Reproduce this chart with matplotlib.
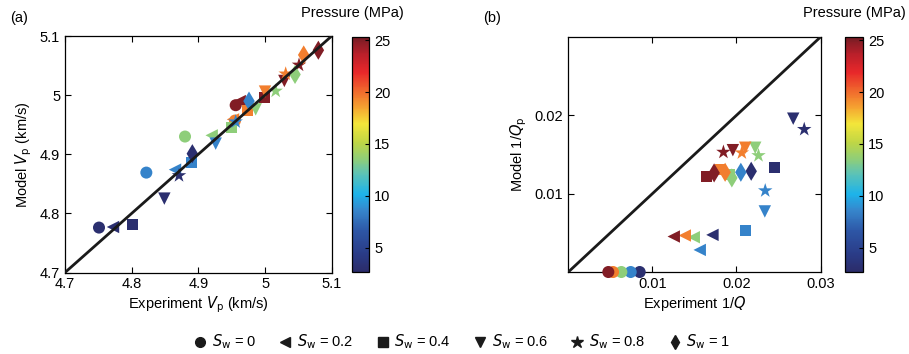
import numpy as np
import matplotlib
matplotlib.use("Agg")
import matplotlib.pyplot as plt
from matplotlib.colors import LinearSegmentedColormap, Normalize
from matplotlib.lines import Line2D

FONT = ['Liberation Sans Narrow', 'Liberation Sans', 'DejaVu Sans']
plt.rcParams['font.family'] = FONT
plt.rcParams['mathtext.fontset'] = 'custom'
plt.rcParams['mathtext.rm'] = 'Liberation Sans Narrow'
plt.rcParams['mathtext.it'] = 'Liberation Sans Narrow:italic'
plt.rcParams['font.size'] = 10.5

# pressure levels (MPa), one per colour
pressure = [3, 8.5, 13.5, 19.5, 25]
sw_labels = ['0', '0.2', '0.4', '0.6', '0.8', '1']
markers = ['o', '<', 's', 'v', '*', 'd']
sizes = [75, 80, 60, 80, 120, 95]

# panel (a): experiment / model Vp (km/s), rows = Sw, cols = pressure
vp_exp = [
    [4.751, 4.822, 4.880, 4.955, 4.956],
    [4.772, 4.865, 4.920, 4.952, 4.962],
    [4.801, 4.890, 4.950, 4.974, 4.999],
    [4.849, 4.926, 4.986, 5.000, 5.029],
    [4.871, 4.956, 5.016, 5.031, 5.051],
    [4.891, 4.976, 5.045, 5.058, 5.080],
]
vp_mod = [
    [4.776, 4.869, 4.930, 4.957, 4.983],
    [4.777, 4.874, 4.932, 4.959, 4.990],
    [4.781, 4.886, 4.945, 4.974, 4.996],
    [4.825, 4.918, 4.976, 5.006, 5.024],
    [4.864, 4.955, 5.007, 5.036, 5.051],
    [4.901, 4.990, 5.035, 5.068, 5.076],
]

# panel (b): experiment / model 1/Q
q_exp = [
    [0.00849, 0.00742, 0.00631, 0.00532, 0.00476],
    [0.01714, 0.01563, 0.01492, 0.01385, 0.01254],
    [0.02448, 0.02111, 0.01920, 0.01810, 0.01648],
    [0.02675, 0.02337, 0.02223, 0.02104, 0.01957],
    [0.02806, 0.02342, 0.02262, 0.02064, 0.01845],
    [0.02175, 0.02052, 0.01945, 0.01865, 0.01734],
]
q_mod = [
    [0.0, 0.0, 0.0, 0.0, 0.0],
    [0.00474, 0.00282, 0.00444, 0.00466, 0.00453],
    [0.01338, 0.00530, 0.01240, 0.01308, 0.01222],
    [0.01957, 0.00773, 0.01586, 0.01586, 0.01555],
    [0.01821, 0.01038, 0.01487, 0.01522, 0.01530],
    [0.01286, 0.01273, 0.01201, 0.01273, 0.01265],
]

cmap = LinearSegmentedColormap.from_list('press', [
    (0.00, '#2b2c6a'), (0.07, '#2a3b86'), (0.17, '#2d55a5'), (0.26, '#3686cc'),
    (0.33, '#1db3ea'), (0.42, '#5ec3b4'), (0.48, '#8fce78'), (0.55, '#bfd645'),
    (0.63, '#f3e63a'), (0.70, '#f5a431'), (0.75, '#f27a2e'), (0.85, '#e8282a'),
    (0.93, '#b81f2a'), (1.00, '#761c24')])
norm = Normalize(2.7, 25.3)

fig = plt.figure(figsize=(9.09, 3.54), dpi=100)
ax1 = fig.add_axes([0.0715, 0.2302, 0.2934, 0.668])
cax1 = fig.add_axes([0.3869, 0.2325, 0.0194, 0.663])
ax2 = fig.add_axes([0.6252, 0.2316, 0.2775, 0.664])
cax2 = fig.add_axes([0.9296, 0.2325, 0.0201, 0.663])


def draw(ax, xs, ys):
    for i, m in enumerate(markers):
        ax.scatter(xs[i], ys[i], c=pressure, cmap=cmap, norm=norm, marker=m,
                   s=sizes[i], linewidths=0, zorder=3, clip_on=False)


draw(ax1, vp_exp, vp_mod)
ax1.plot([4.7, 5.1], [4.7, 5.1], color='#1a1a1a', lw=2, zorder=4)
ax1.set_xlim(4.7, 5.1)
ax1.set_ylim(4.7, 5.1)
ax1.set_xticks([4.7, 4.8, 4.9, 5.0, 5.1])
ax1.set_xticklabels(['4.7', '4.8', '4.9', '5', '5.1'])
ax1.set_yticks([4.7, 4.8, 4.9, 5.0, 5.1])
ax1.set_yticklabels(['4.7', '4.8', '4.9', '5', '5.1'])
ax1.set_xlabel(r'Experiment $V_\mathrm{p}$ (km/s)', labelpad=2)
ax1.set_ylabel(r'Model $V_\mathrm{p}$ (km/s)', labelpad=4)

draw(ax2, q_exp, q_mod)
ax2.plot([0, 0.03], [0, 0.03], color='#1a1a1a', lw=2, zorder=4)
ax2.set_xlim(0, 0.03)
ax2.set_ylim(0, 0.03)
ax2.set_xticks([0.01, 0.02, 0.03])
ax2.set_xticklabels(['0.01', '0.02', '0.03'])
ax2.set_yticks([0.01, 0.02])
ax2.set_yticklabels(['0.01', '0.02'])
ax2.set_xlabel(r'Experiment 1/$Q$', labelpad=2)
ax2.set_ylabel(r'Model 1/$Q_\mathrm{p}$', labelpad=4)

for ax in (ax1, ax2):
    ax.tick_params(direction='in', top=True, right=True, length=4, width=0.8)
    for sp in ax.spines.values():
        sp.set_linewidth(0.9)

for cax, cx in ((cax1, 0.388), (cax2, 0.94)):
    cb = fig.colorbar(plt.cm.ScalarMappable(norm=norm, cmap=cmap), cax=cax)
    cb.set_ticks([5, 10, 15, 20, 25])
    cb.ax.tick_params(direction='in', length=3, width=0.8)
    cb.outline.set_linewidth(0.9)
    fig.text(cx, 0.962, 'Pressure (MPa)', ha='center', va='center')

fig.text(0.011, 0.948, '(a)', ha='left', va='center')
fig.text(0.531, 0.948, '(b)', ha='left', va='center')

handles = [Line2D([], [], ls='', marker=m, color='#1a1a1a', markersize=7 if m != '*' else 9)
           for m in markers]
labels = [r'$S_\mathrm{w}$ = ' + s for s in sw_labels]
fig.legend(handles, labels, loc='center', bbox_to_anchor=(0.508, 0.034), ncol=6,
           frameon=False, columnspacing=1.5, handletextpad=0.3, handlelength=1.0)

fig.savefig('out.png', dpi=100)
